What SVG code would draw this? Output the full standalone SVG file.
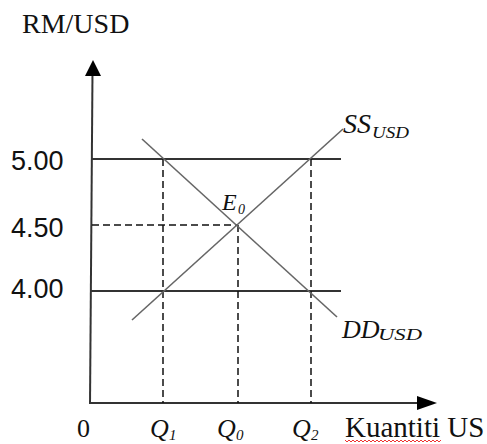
<svg xmlns="http://www.w3.org/2000/svg" width="487" height="444" viewBox="0 0 487 444">
<style>
.ax{stroke:#333;stroke-width:2;fill:none}
.lvl{stroke:#333;stroke-width:2;fill:none}
.crv{stroke:#666;stroke-width:1.6;fill:none}
.dash{stroke:#111;stroke-width:1.5;stroke-dasharray:7 4;fill:none}
.serif{font-family:"Liberation Serif","Times New Roman",serif;fill:#111}
.it{font-family:"Liberation Serif","Times New Roman",serif;font-style:italic;fill:#111}
.sans{font-family:"Liberation Sans",Arial,sans-serif;fill:#111;font-size:27px}
</style>
<rect width="487" height="444" fill="#fff"/>
<g id="axes">
<line class="ax" x1="92.5" y1="72" x2="90" y2="404"/>
<polygon points="93,60 85,76 101,76" fill="#000"/>
<line class="ax" x1="89" y1="403" x2="420" y2="403"/>
<polygon points="437,403 417,396 417,410" fill="#000"/>
</g>
<g id="connectors">
<line class="lvl" x1="91" y1="159" x2="341" y2="159"/>
<line class="lvl" x1="91" y1="291" x2="341" y2="291"/>
<line class="dash" x1="92" y1="225" x2="238" y2="225"/>
<line class="dash" x1="163" y1="159" x2="163" y2="403"/>
<line class="dash" x1="238" y1="225" x2="238" y2="403"/>
<line class="dash" x1="311" y1="159" x2="311" y2="403"/>
</g>
<g id="SS">
<line class="crv" x1="132" y1="320" x2="343" y2="129"/>
<text class="it" x="343" y="133" font-size="28">SS</text>
<text class="it" x="372" y="138" font-size="16" textLength="37" lengthAdjust="spacingAndGlyphs">USD</text>
</g>
<g id="DD">
<line class="crv" x1="142" y1="139" x2="337" y2="317"/>
<text class="it" x="342" y="338" font-size="26">DD</text>
<text class="it" x="378" y="340" font-size="17" textLength="44" lengthAdjust="spacingAndGlyphs">USD</text>
</g>
<g id="E0">
<text class="it" x="222" y="210" font-size="24">E</text>
<text class="it" x="238" y="214" font-size="14">0</text>
</g>
<g id="labels">
<text class="serif" x="22" y="33" font-size="28">RM/USD</text>
<text class="sans" x="11" y="170">5.00</text>
<text class="sans" x="11" y="237">4.50</text>
<text class="sans" x="11" y="298">4.00</text>
<text class="serif" x="77" y="437" font-size="26">0</text>
<text class="it" x="150" y="437" font-size="26">Q</text>
<text class="it" x="169" y="440" font-size="15">1</text>
<text class="it" x="217" y="437" font-size="26">Q</text>
<text class="it" x="236" y="440" font-size="15">0</text>
<text class="it" x="292" y="437" font-size="26">Q</text>
<text class="it" x="311" y="440" font-size="15">2</text>
<text class="serif" x="345" y="437" font-size="29">Kuantiti US</text>
<polyline points="345,440 347,442 349,440 351,442 353,440 355,442 357,440 359,442 361,440 363,442 365,440 367,442 369,440 371,442 373,440 375,442 377,440 379,442 381,440 383,442 385,440 387,442 389,440 391,442 393,440 395,442 397,440 399,442 401,440 403,442 405,440 407,442 409,440 411,442 413,440 415,442 417,440 419,442 421,440 423,442 425,440 427,442 429,440 431,442 433,440 435,442 437,440 439,442 441,440" fill="none" stroke="#e33" stroke-width="1"/>
</g>
</svg>
